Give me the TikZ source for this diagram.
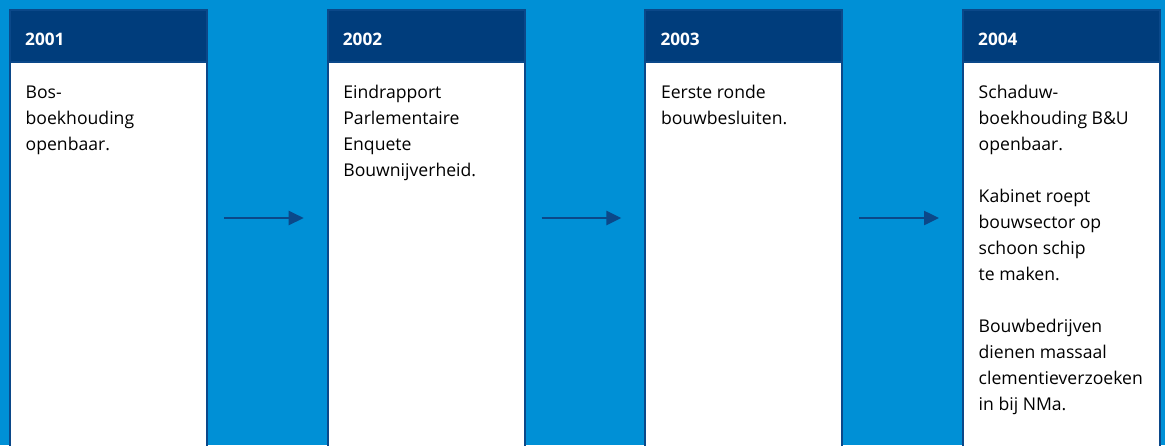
\documentclass[tikz,border=0pt]{standalone}
\usepackage{fontspec}
\setmainfont{Open Sans}
\usetikzlibrary{arrows.meta}
\definecolor{bgblue}{HTML}{0090D6}
\definecolor{hdblue}{HTML}{003D7C}
\definecolor{bdblue}{HTML}{0B4889}
\tikzset{
  box/.style={draw=bdblue, line width=2pt, fill=white, minimum width=197pt, minimum height=460pt, anchor=north west, inner sep=0pt},
  hdr/.style={draw=bdblue, line width=2pt, fill=hdblue, minimum width=197pt, minimum height=52pt, anchor=north west, inner sep=0pt},
  year/.style={anchor=base west, inner sep=0pt, text=white, font=\fontsize{17.2}{20}\selectfont\bfseries},
  body/.style={anchor=base west, inner sep=0pt, text=black},
  arr/.style={draw=bdblue, line width=2.5pt, -{Triangle[length=15pt,width=14pt]}, shorten <=16pt, shorten >=23pt}
}
\newcommand{\bodytext}[1]{\parbox[t]{185pt}{\fontsize{17.6}{26}\selectfont\raggedright #1}}
\begin{document}
\begin{tikzpicture}[x=1pt,y=-1pt]
\useasboundingbox (0,0) rectangle (1165,445);
\clip (0,0) rectangle (1165,445);
\fill[bgblue] (0,0) rectangle (1165,445);
\foreach \i/\x in {1/9,2/326.7,3/644.3,4/962}{
  \node[box] (b\i) at (\x,9) {};
  \node[hdr] (h\i) at (\x,9) {};
}
\node[year] (y1) at ([xshift=16pt]h1.west |- 0,45) {2001};
\node[year] (y2) at ([xshift=16pt]h2.west |- 0,45) {2002};
\node[year] (y3) at ([xshift=16pt]h3.west |- 0,45) {2003};
\node[year] (y4) at ([xshift=16pt]h4.west |- 0,45) {2004};
\node[body] (t1) at ([xshift=16.5pt]b1.west |- 0,98) {\bodytext{Bos-\\boekhouding\\openbaar.}};
\node[body] (t2) at ([xshift=16.5pt]b2.west |- 0,98) {\bodytext{Eindrapport\\Parlementaire\\Enquete\\Bouwnijverheid.}};
\node[body] (t3) at ([xshift=16.5pt]b3.west |- 0,98) {\bodytext{Eerste ronde\\bouwbesluiten.}};
\node[body] (t4) at ([xshift=16.5pt]b4.west |- 0,98) {\bodytext{Schaduw-\\boekhouding B\&U\\openbaar.\\[26pt]Kabinet roept\\bouwsector op\\schoon schip\\te maken.\\[26pt]Bouwbedrijven\\dienen massaal\\clementieverzoeken\\in bij NMa.}};
\coordinate (ay) at (0,218);
\draw[arr] (b1.east |- ay) -- (b2.west |- ay);
\draw[arr] (b2.east |- ay) -- (b3.west |- ay);
\draw[arr] (b3.east |- ay) -- (b4.west |- ay);
\end{tikzpicture}
\end{document}
